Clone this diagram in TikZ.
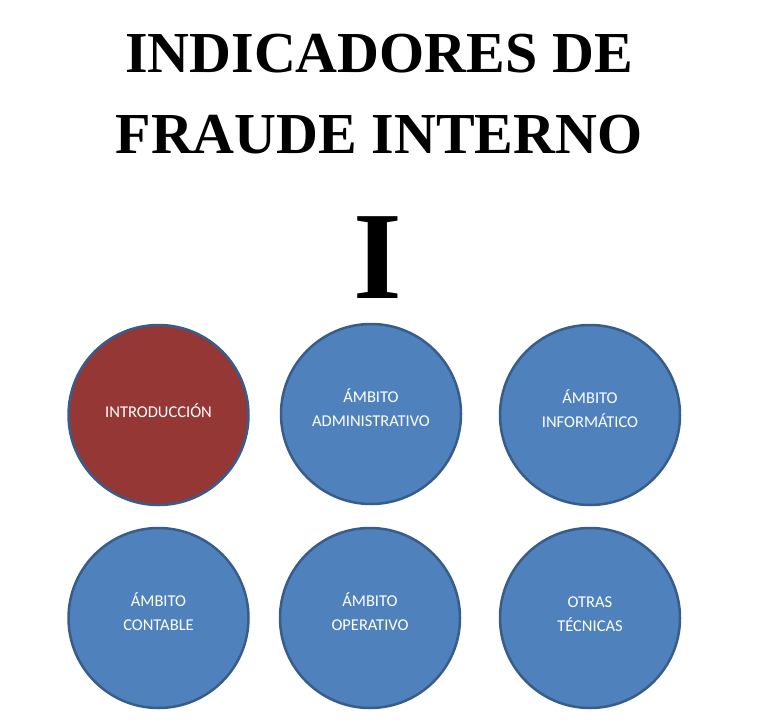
\documentclass[tikz,border=0pt]{standalone}
\usepackage{fontspec}
\setmainfont{Liberation Serif}
\newfontfamily\circfont{Carlito}
\definecolor{cblue}{HTML}{4F81BD}
\definecolor{cred}{HTML}{953735}
\definecolor{cedge}{HTML}{385D8A}
\begin{document}
\begin{tikzpicture}[x=1pt,y=-1pt,
  bubble/.style={circle, draw=cedge, line width=2.5pt, minimum size=180pt, inner sep=0pt,
    text=white, align=center, text depth=12pt, font=\circfont\fontsize{16.5}{24}\selectfont},
  title/.style={font=\bfseries\fontsize{58}{83}\selectfont, align=center, inner sep=0pt}]
\useasboundingbox (0,0) rectangle (768,725);
\node[title, anchor=base] (t1) at (379,72) {INDICADORES DE};
\node[title, anchor=base] (t2) at (379,153) {FRAUDE INTERNO};
\node[font=\bfseries\fontsize{125}{125}\selectfont, inner sep=0pt, anchor=base] (roman) at (378,298) {I};
\node[bubble, fill=cred, text depth=9pt] (intro) at (158.5,415) {INTRODUCCIÓN};
\node[bubble, fill=cblue] (admin) at (371,414) {ÁMBITO\\ADMINISTRATIVO};
\node[bubble, fill=cblue] (info) at (590,415) {ÁMBITO\\INFORMÁTICO};
\node[bubble, fill=cblue] (cont) at (158.5,618) {ÁMBITO\\CONTABLE};
\node[bubble, fill=cblue] (oper) at (370,618) {ÁMBITO\\OPERATIVO};
\node[bubble, fill=cblue, text depth=7pt] (otras) at (590,618) {OTRAS\\TÉCNICAS};
\end{tikzpicture}
\end{document}
